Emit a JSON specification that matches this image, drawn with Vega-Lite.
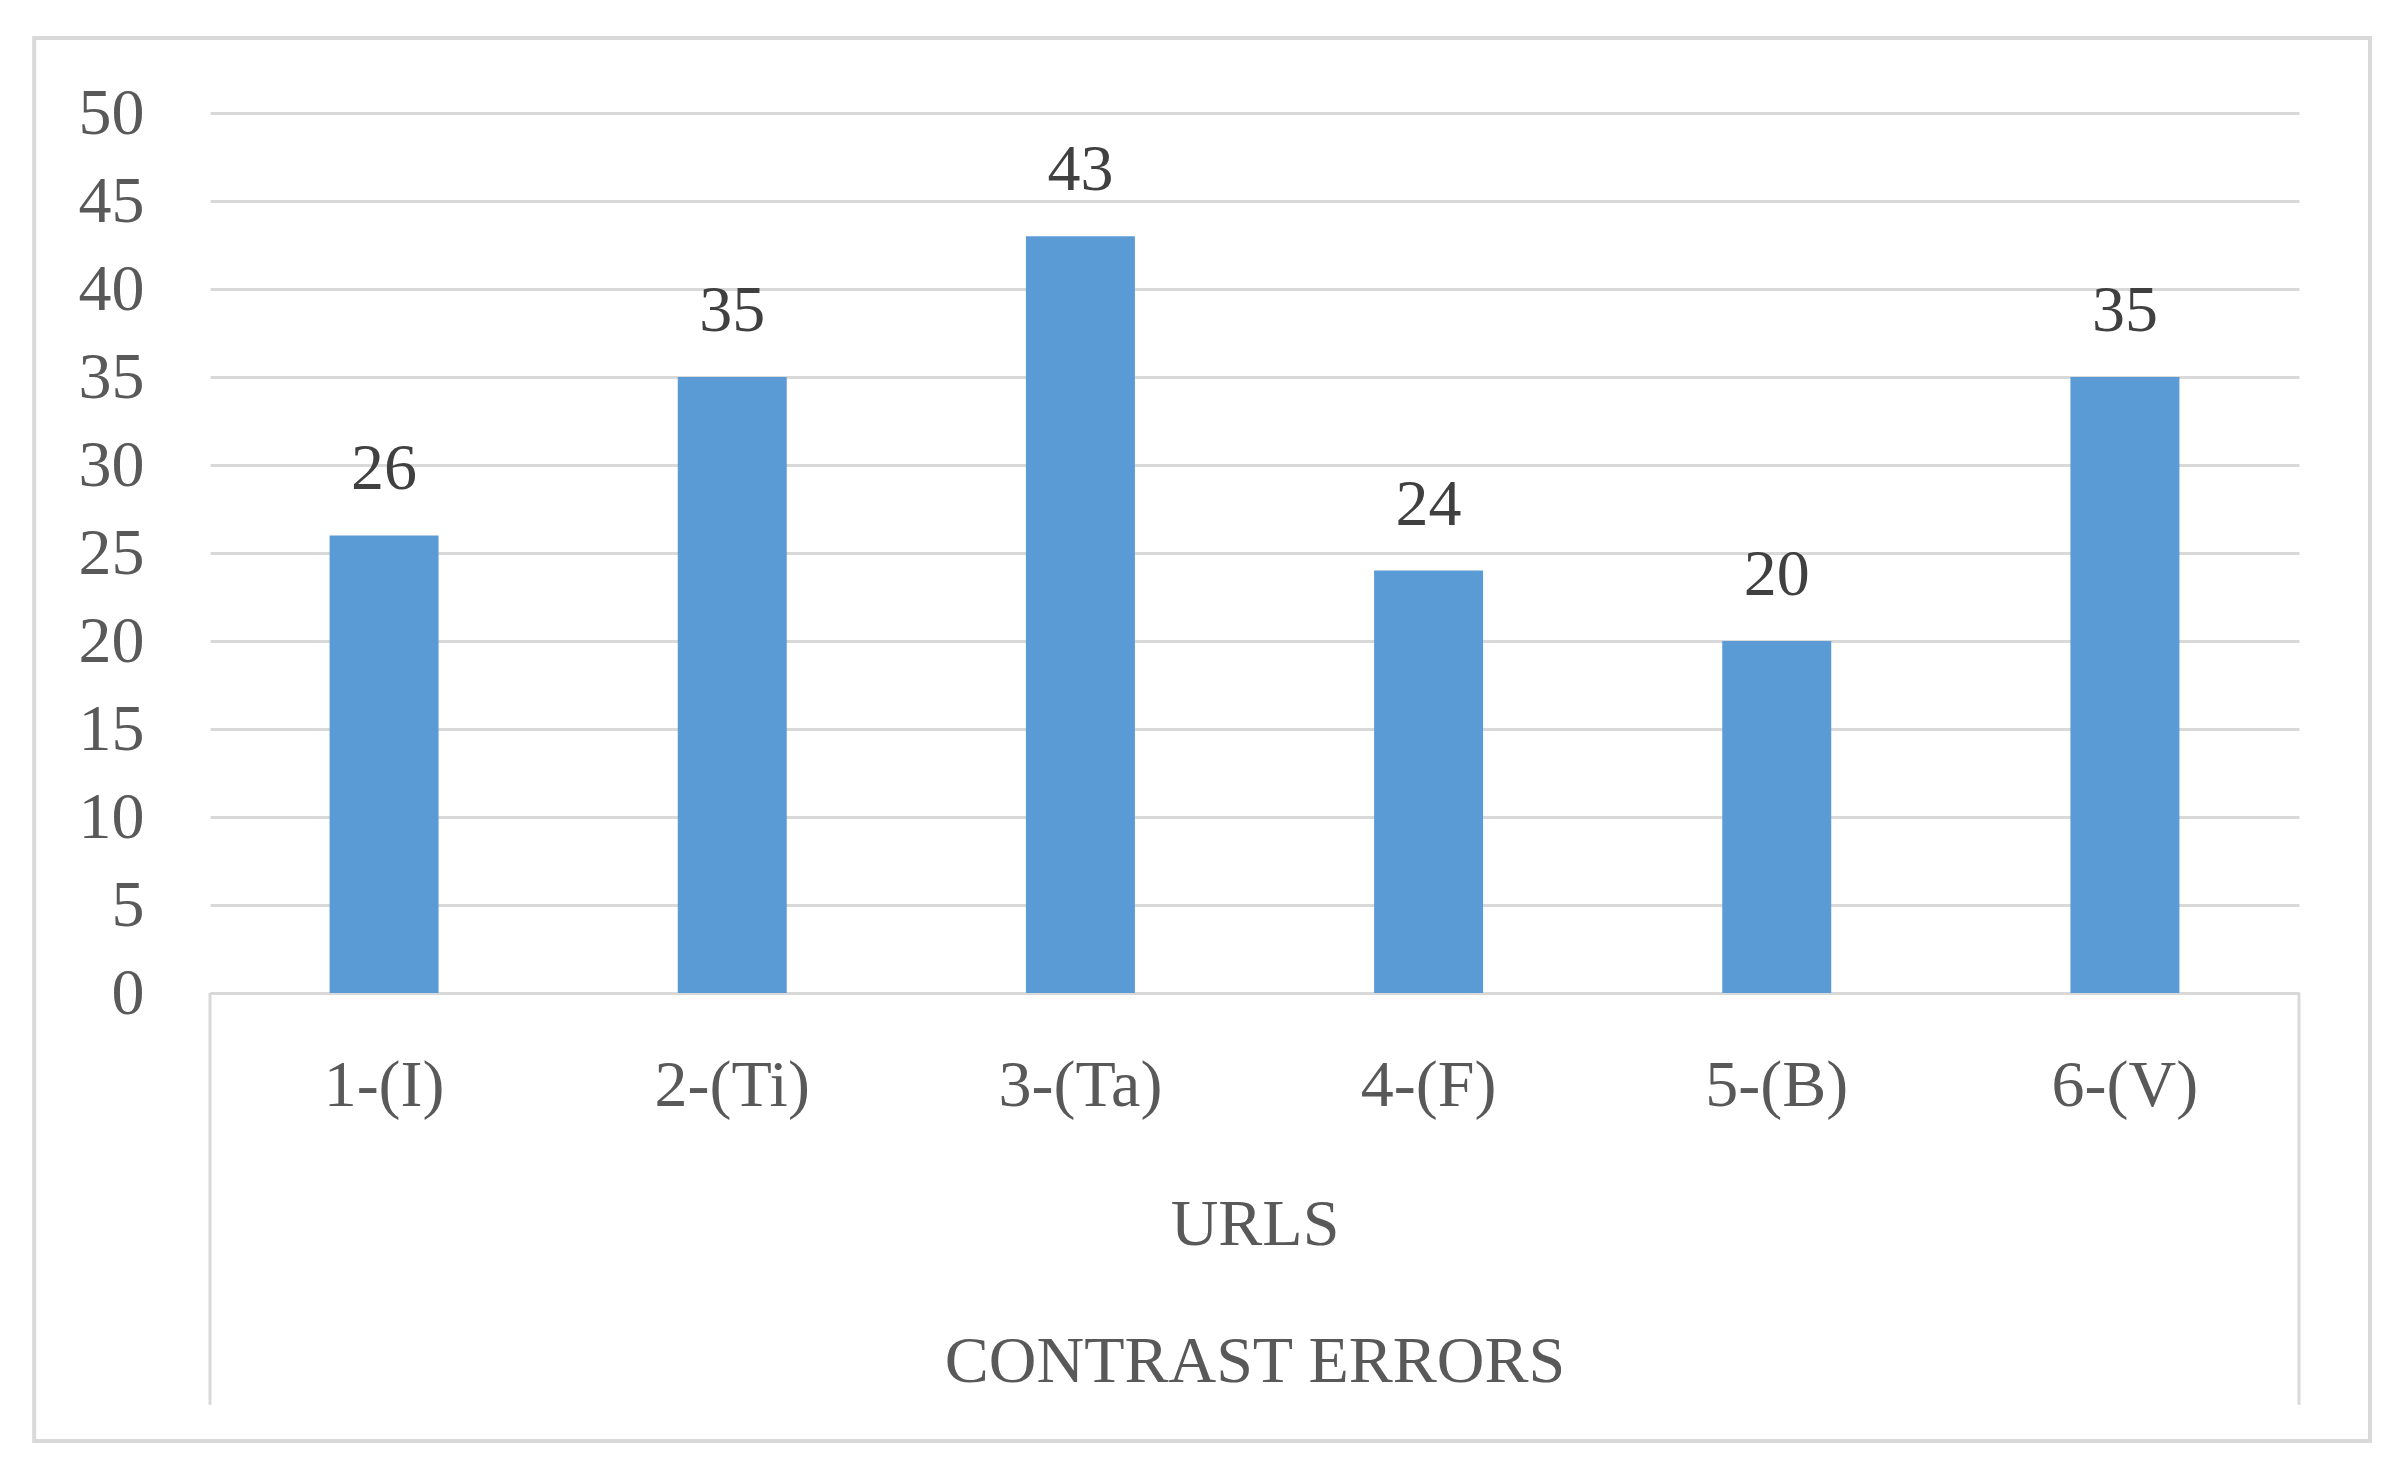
{
  "$schema": "https://vega.github.io/schema/vega-lite/v6.json",
  "width": 2089,
  "height": 880,
  "autosize": {"type": "none"},
  "padding": {"left": 210, "top": 113, "right": 109, "bottom": 483},
  "background": "white",
  "config": {"view": {"stroke": null}, "font": "Liberation Serif"},
  "resolve": {"scale": {"x": "independent", "y": "independent"}},
  "layer": [
    {
      "data": {"values": [
        {"url": "1-(I)", "errors": 26},
        {"url": "2-(Ti)", "errors": 35},
        {"url": "3-(Ta)", "errors": 43},
        {"url": "4-(F)", "errors": 24},
        {"url": "5-(B)", "errors": 20},
        {"url": "6-(V)", "errors": 35}
      ]},
      "encoding": {
        "x": {
          "field": "url", "type": "nominal", "sort": null,
          "scale": {"paddingInner": 0.687, "paddingOuter": 0.3435},
          "axis": {
            "title": ["URLS", "CONTRAST ERRORS"],
            "titleFontSize": 66, "titleColor": "#595959", "titleFontWeight": "normal",
            "titleLineHeight": 137, "titlePadding": 74,
            "labelFontSize": 66, "labelColor": "#595959", "labelPadding": 92,
            "labelBaseline": "middle", "labelAngle": 0,
            "domainColor": "#d9d9d9", "domainWidth": 3, "ticks": false, "grid": false
          }
        },
        "y": {
          "field": "errors", "type": "quantitative",
          "scale": {"domain": [0, 50], "nice": false},
          "axis": {
            "title": null, "values": [0, 5, 10, 15, 20, 25, 30, 35, 40, 45, 50],
            "labelFontSize": 66, "labelColor": "#595959", "labelPadding": 66,
            "ticks": false, "domain": false,
            "grid": true, "gridColor": "#d9d9d9", "gridWidth": 3
          }
        }
      },
      "layer": [
        {"mark": {"type": "bar", "color": "#5b9bd5"}},
        {
          "mark": {"type": "text", "baseline": "alphabetic", "dy": -46, "fontSize": 66, "color": "#404040"},
          "encoding": {"text": {"field": "errors", "type": "quantitative"}}
        }
      ]
    },
    {
      "data": {"values": [{}]},
      "mark": {"type": "rect", "fill": "transparent", "stroke": "#d9d9d9", "strokeWidth": 4},
      "encoding": {
        "x": {"datum": -0.505, "type": "quantitative", "scale": {"domain": [0, 6], "nice": false, "zero": false}, "axis": null},
        "x2": {"datum": 6.204},
        "y": {"datum": 54.26, "type": "quantitative", "scale": {"domain": [0, 50], "nice": false}, "axis": null},
        "y2": {"datum": -25.45}
      }
    },
    {
      "data": {"values": [{}]},
      "mark": {"type": "rule", "color": "#d9d9d9", "strokeWidth": 3},
      "encoding": {
        "x": {"datum": 0, "type": "quantitative", "scale": {"domain": [0, 6], "nice": false, "zero": false}, "axis": null},
        "y": {"datum": 0, "type": "quantitative", "scale": {"domain": [0, 50], "nice": false}, "axis": null},
        "y2": {"datum": -23.4}
      }
    },
    {
      "data": {"values": [{}]},
      "mark": {"type": "rule", "color": "#d9d9d9", "strokeWidth": 3},
      "encoding": {
        "x": {"datum": 6, "type": "quantitative", "scale": {"domain": [0, 6], "nice": false, "zero": false}, "axis": null},
        "y": {"datum": 0, "type": "quantitative", "scale": {"domain": [0, 50], "nice": false}, "axis": null},
        "y2": {"datum": -23.4}
      }
    }
  ]
}
